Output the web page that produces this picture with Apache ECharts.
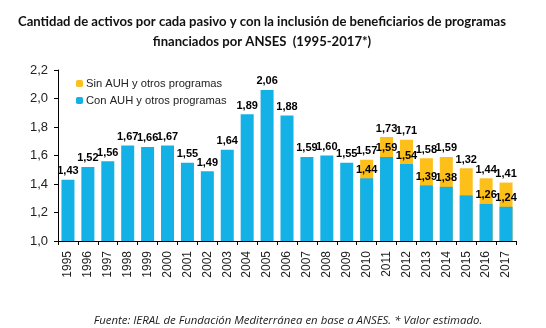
<!DOCTYPE html>
<html><head><meta charset="utf-8">
<script src="https://cdn.jsdelivr.net/npm/echarts@6/dist/echarts.min.js"></script>
<style>html,body{margin:0;padding:0;background:#fff}#c{width:546px;height:328px}</style>
</head><body><div id="c"></div>
<script>
var years = ['1995','1996','1997','1998','1999','2000','2001','2002','2003','2004','2005','2006','2007','2008','2009','2010','2011','2012','2013','2014','2015','2016','2017'];
var conAUH = [1.43,1.52,1.56,1.67,1.66,1.67,1.55,1.49,1.64,1.89,2.06,1.88,1.59,1.60,1.55,1.44,1.59,1.54,1.39,1.38,1.32,1.26,1.24];
var sinAUH = [null,null,null,null,null,null,null,null,null,null,null,null,null,null,null,1.57,1.73,1.71,1.58,1.59,1.51,1.44,1.41];
// label texts as printed in the reference (2015 shows only one label, above the bar)
var conLabels = ['1,43','1,52','1,56','1,67','1,66','1,67','1,55','1,49','1,64','1,89','2,06','1,88','1,59','1,60','1,55','1,44','1,59','1,54','1,39','1,38','','1,26','1,24'];
var sinLabels = ['','','','','','','','','','','','','','','','1,57','1,73','1,71','1,58','1,59','1,32','1,44','1,41'];
var yTicks = ['1,0','1,2','1,4','1,6','1,8','2,0','2,2'];

var chart = echarts.init(document.getElementById('c'));
var lblStyle = {show:true, position:'top', distance:3, fontFamily:'Arial', fontWeight:'bold', fontSize:11, color:'#000'};
chart.setOption({
  animation:false,
  title:[{
    text:'Cantidad de activos por cada pasivo y con la inclusión de beneficiarios de programas\nfinanciados por ANSES  (1995-2017*)',
    left:257, top:7, textAlign:'center',
    textStyle:{fontFamily:'Lato', fontWeight:'bold', fontSize:13.1, lineHeight:20, color:'#111'}
  },{
    text:'Fuente: IERAL de Fundación Mediterránea en base a ANSES. * Valor estimado.',
    left:283, top:310, textAlign:'center',
    textStyle:{fontFamily:'Open Sans', fontStyle:'italic', fontWeight:'normal', fontSize:11.4, color:'#222'}
  }],
  legend:{
    orient:'vertical', left:71, top:73, itemWidth:7, itemHeight:7, itemGap:6,
    textStyle:{fontFamily:'Arial', fontSize:11.2, color:'#222', padding:[0,0,0,-2]},
    data:['Sin AUH y otros programas','Con AUH y otros programas']
  },
  grid:{left:58, right:30, top:70, bottom:87},
  xAxis:{
    type:'category', data:years,
    axisLine:{lineStyle:{color:'#000', width:1}},
    axisTick:{show:true, alignWithLabel:false, length:4, lineStyle:{color:'#000'}},
    axisLabel:{rotate:90, fontFamily:'Arial', fontSize:12, color:'#222', margin:10}
  },
  yAxis:{
    type:'value', min:1.0, max:2.2, interval:0.2,
    splitLine:{show:false},
    axisLine:{show:true, lineStyle:{color:'#000', width:1}},
    axisTick:{show:true, length:4, lineStyle:{color:'#000'}},
    axisLabel:{fontFamily:'Arial', fontSize:13, color:'#222', margin:10,
      formatter:function(v){ return yTicks[Math.round((v-1)/0.2)]; }}
  },
  series:[{
    name:'Sin AUH y otros programas', type:'bar', data:sinAUH, barWidth:13, barGap:'-100%',
    itemStyle:{color:'#FDBF1A'}, z:1,
    label:Object.assign({}, lblStyle, {formatter:function(p){return sinLabels[p.dataIndex];}})
  },{
    name:'Con AUH y otros programas', type:'bar', data:conAUH, barWidth:13,
    itemStyle:{color:'#14B1E7'}, z:2,
    label:Object.assign({}, lblStyle, {formatter:function(p){return conLabels[p.dataIndex];}})
  }]
});
</script></body></html>
